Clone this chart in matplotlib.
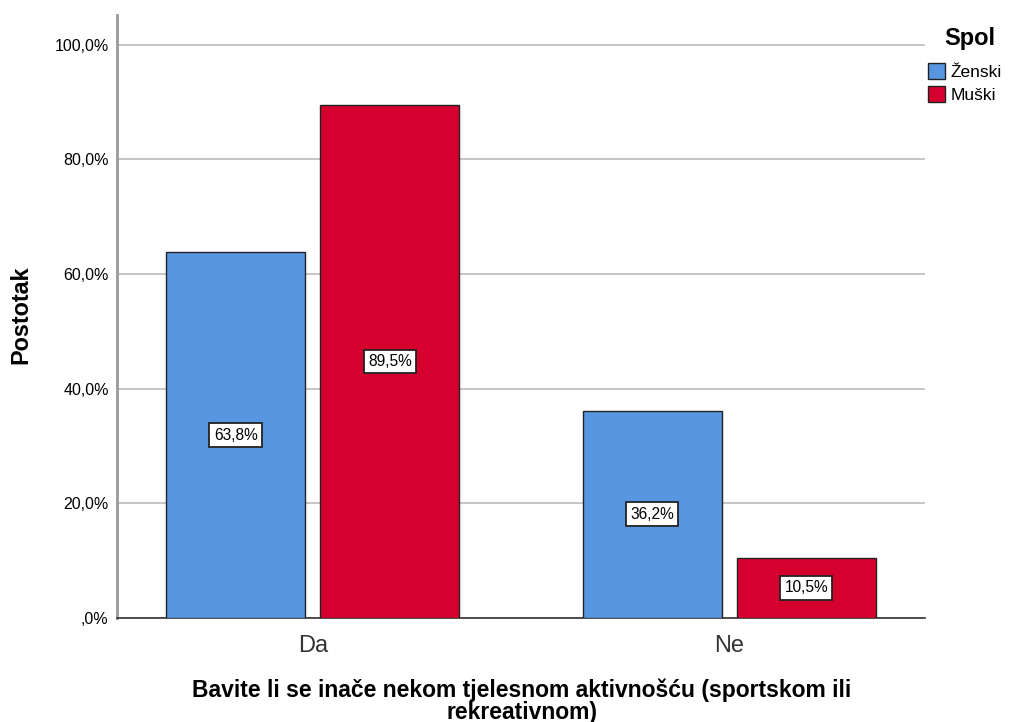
import matplotlib
matplotlib.use("Agg")
import matplotlib.pyplot as plt
import numpy as np

categories = ["Da", "Ne"]
series_names = ["Ženski", "Muški"]
zenski = [63.8, 36.2]
muski = [89.5, 10.5]
yticks = [0, 20, 40, 60, 80, 100]
ytick_labels = [",0%", "20,0%", "40,0%", "60,0%", "80,0%", "100,0%"]

plt.rcParams['font.family'] = ['Liberation Sans', 'DejaVu Sans']

fig = plt.figure(figsize=(10.11, 7.22), dpi=100)
ax = fig.add_axes([117/1011, 1-618/722, (925-117)/1011, (618-15)/722])

x = np.arange(len(categories))
w = 0.334
off = 0.185
colors = ["#5896E2", "#D6002F"]
b1 = ax.bar(x - off, zenski, w, color=colors[0], edgecolor="#222222", linewidth=1.0, label=series_names[0], zorder=3)
b2 = ax.bar(x + off, muski, w, color=colors[1], edgecolor="#222222", linewidth=1.0, label=series_names[1], zorder=3)

for bars, vals in ((b1, zenski), (b2, muski)):
    for r, v in zip(bars, vals):
        ax.text(r.get_x() + r.get_width()/2, v/2, f"{v:.1f}%".replace(".", ","),
                ha="center", va="center", fontsize=11.2, zorder=4,
                bbox=dict(boxstyle="square,pad=0.28", fc="white", ec="#222222", lw=1.3))

ax.set_xlim(-0.47, 1.47)
ax.set_ylim(0, 105.2)
ax.set_yticks(yticks)
ax.set_yticklabels(ytick_labels, fontsize=11.5)
ax.set_xticks(x)
ax.set_xticklabels(categories, fontsize=17, color="#333333")
ax.tick_params(axis="both", length=0, pad=6)
ax.tick_params(axis="x", pad=12)
ax.yaxis.grid(True, color="#BBBBBB", linewidth=1.2, zorder=0)
ax.set_axisbelow(True)
for s in ("top", "right"):
    ax.spines[s].set_visible(False)
ax.spines["left"].set_color("#999999")
ax.spines["left"].set_linewidth(2)
ax.spines["bottom"].set_color("#333333")
ax.spines["bottom"].set_linewidth(1.2)

fig.text(21/1011, 1-315/722, "Postotak", rotation=90, ha="center", va="center",
         fontsize=16.8, fontweight="bold")
fig.text(522/1011, 1-701/722, "Bavite li se inače nekom tjelesnom aktivnošću (sportskom ili\nrekreativnom)",
         ha="center", va="center", fontsize=16.5, fontweight="bold", linespacing=0.92)

fig.text(970/1011, 1-38/722, "Spol", ha="center", va="center", fontsize=17, fontweight="bold")
leg = fig.legend(handles=[b1, b2], labels=series_names, loc="upper left",
                 bbox_to_anchor=(928/1011, 1-63/722), frameon=False, fontsize=12.5,
                 handlelength=1.0, handleheight=1.0, handletextpad=0.3, labelspacing=0.38,
                 borderaxespad=0, borderpad=0)

fig.savefig("out.png", dpi=100)
